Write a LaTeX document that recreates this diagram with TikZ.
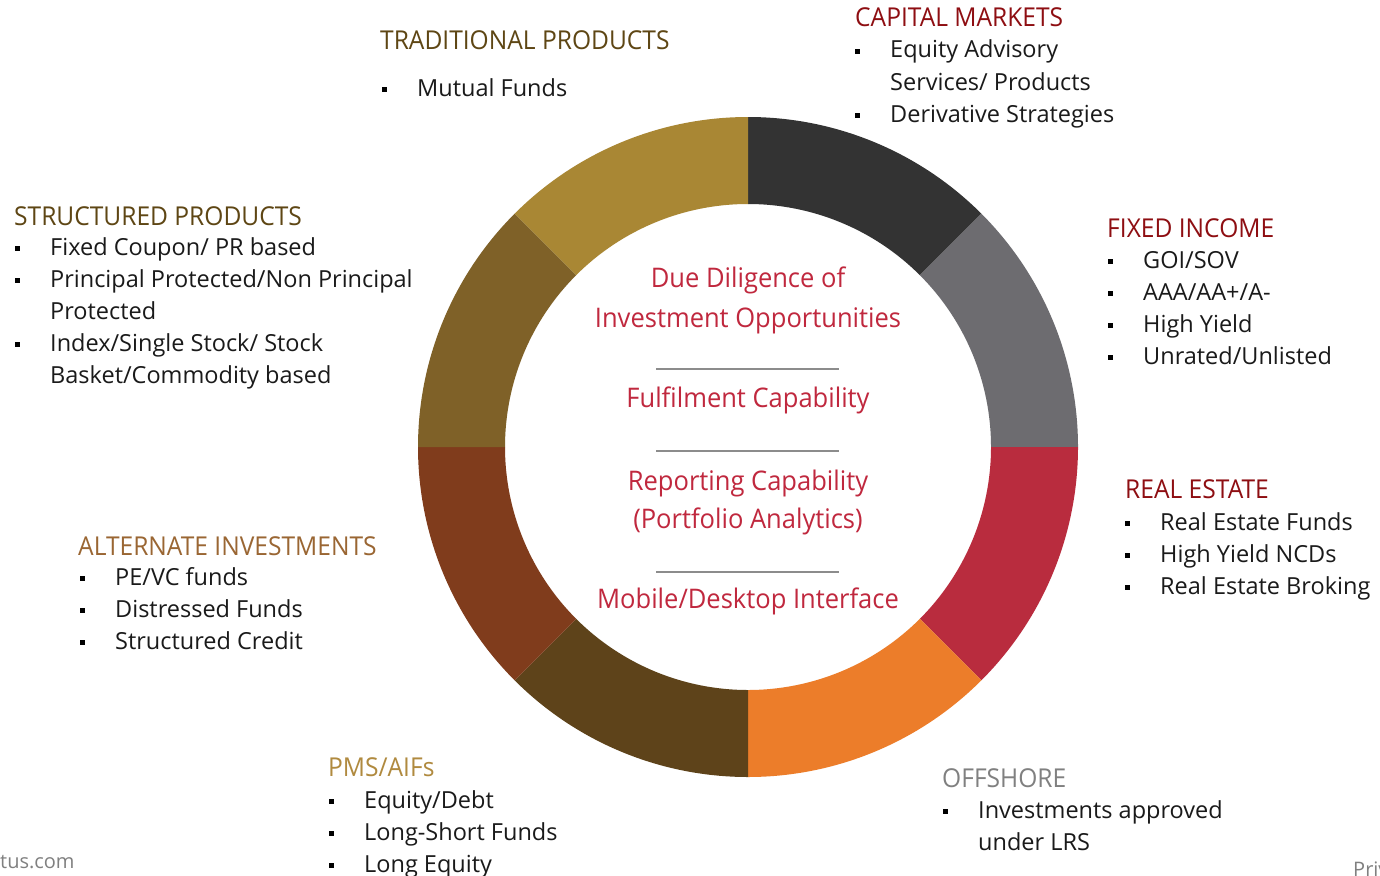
\documentclass[tikz,border=0pt]{standalone}
\usepackage{fontspec}
\setmainfont{Open Sans}
\newfontfamily\narrowfont[FakeStretch=0.945]{Open Sans}
\usetikzlibrary{calc}
\definecolor{s1}{HTML}{333333}
\definecolor{s2}{HTML}{6D6C70}
\definecolor{s3}{HTML}{B92C3E}
\definecolor{s4}{HTML}{EC7D2A}
\definecolor{s5}{HTML}{5E431A}
\definecolor{s6}{HTML}{803C1C}
\definecolor{s7}{HTML}{7F6128}
\definecolor{s8}{HTML}{A98734}
\definecolor{hgold}{HTML}{5E4614}
\definecolor{hred}{HTML}{8E0E12}
\definecolor{halt}{HTML}{9A6633}
\definecolor{hpms}{HTML}{B08A3F}
\definecolor{hoff}{HTML}{808080}
\definecolor{crim}{HTML}{C0283E}
\definecolor{txt}{HTML}{1A1A1A}
\definecolor{sepg}{HTML}{8C8C8C}
\newcommand\myitem[4]{\node[body] (#1) at (#2,#3) {#4};
  \node[bul] (#1b) at ([xshift=-32.5pt,yshift=6.5pt]#1.base west) {};}
\begin{document}
\begin{tikzpicture}[x=1pt,y=-1pt,
  head/.style={anchor=base west,inner sep=0,font=\narrowfont\fontsize{26}{30}\selectfont},
  body/.style={anchor=base west,inner sep=0,font=\fontsize{23.5}{28}\selectfont,text=txt},
  bul/.style={fill=black,inner sep=0,minimum size=5.5pt,rectangle,draw=none},
  ctr/.style={anchor=base,inner sep=0,font=\narrowfont\fontsize{27}{32}\selectfont,text=crim},
  sepline/.style={draw=sepg,line width=2pt},
  foot/.style={anchor=base west,inner sep=0,font=\fontsize{20}{24}\selectfont,text=hoff}]
\useasboundingbox (0,0) rectangle (1380,875);
\fill[white] (0,0) rectangle (1380,875);
\coordinate (c) at (748,447);
\foreach \a/\col in {90/s1,45/s2,0/s3,-45/s4,-90/s5,-135/s6,-180/s7,-225/s8} {
  \pgfmathtruncatemacro\b{\a-45}
  \fill[\col] ($(c)+(\a:330pt)$) arc[start angle=\a, end angle=\b, radius=330pt]
    -- ($(c)+(\b:243pt)$) arc[start angle=\b, end angle=\a, radius=243pt] -- cycle;
}
% centre texts
\node[ctr] (dd1) at (748,287) {Due Diligence of};
\node[ctr] (dd2) at (748,327) {Investment Opportunities};
\node[ctr] (ful) at (748,407) {Fulfilment Capability};
\node[ctr] (rep1) at (748,490) {Reporting Capability};
\node[ctr] (rep2) at (748,528) {(Portfolio Analytics)};
\node[ctr] (mob) at (748,608) {Mobile/Desktop Interface};
\draw[sepline] (656,369) -- (839,369);
\draw[sepline] (656,451) -- (839,451);
\draw[sepline] (656,572) -- (839,572);
% traditional
\node[head,text=hgold] (trh) at (380,50) {TRADITIONAL PRODUCTS};
\myitem{tr1}{417}{96}{Mutual Funds}
% capital markets
\node[head,text=hred] (cmh) at (855,27) {CAPITAL MARKETS};
\myitem{cm1}{890}{58}{Equity Advisory}
\node[body] (cm1c) at (890,90) {Services/ Products};
\myitem{cm2}{890}{122}{Derivative Strategies}
% fixed income
\node[head,text=hred] (fih) at (1107,237) {FIXED INCOME};
\myitem{fi1}{1143}{268}{GOI/SOV}
\myitem{fi2}{1143}{300}{AAA/AA+/A-}
\myitem{fi3}{1143}{332}{High Yield}
\myitem{fi4}{1143}{364}{Unrated/Unlisted}
% real estate
\node[head,text=hred] (reh) at (1125,498) {REAL ESTATE};
\myitem{re1}{1160}{530}{Real Estate Funds}
\myitem{re2}{1160}{562}{High Yield NCDs}
\myitem{re3}{1160}{594}{Real Estate Broking}
% structured
\node[head,text=hgold] (sph) at (14,225) {STRUCTURED PRODUCTS};
\myitem{sp1}{50}{255}{Fixed Coupon/ PR based}
\myitem{sp2}{50}{287}{Principal Protected/Non Principal}
\node[body] (sp2c) at (50,319) {Protected};
\myitem{sp3}{50}{351}{Index/Single Stock/ Stock}
\node[body] (sp3c) at (50,383) {Basket/Commodity based};
% alternate
\node[head,text=halt] (aih) at (78,555) {ALTERNATE INVESTMENTS};
\myitem{ai1}{115}{585}{PE/VC funds}
\myitem{ai2}{115}{617}{Distressed Funds}
\myitem{ai3}{115}{649}{Structured Credit}
% PMS
\node[head,text=hpms] (pmh) at (328,776) {PMS/AIFs};
\myitem{pm1}{364}{808}{Equity/Debt}
\myitem{pm2}{364}{840}{Long-Short Funds}
\myitem{pm3}{364}{872}{Long Equity}
% offshore
\node[head,text=hoff] (ofh) at (942,787) {OFFSHORE};
\myitem{of1}{978}{818}{Investments approved}
\node[body] (of1c) at (978,850) {under LRS};
% footer
\node[foot] (ft1) at (0,868) {tus.com};
\node[foot] (ft2) at (1353,876) {Priv};
\end{tikzpicture}
\end{document}
